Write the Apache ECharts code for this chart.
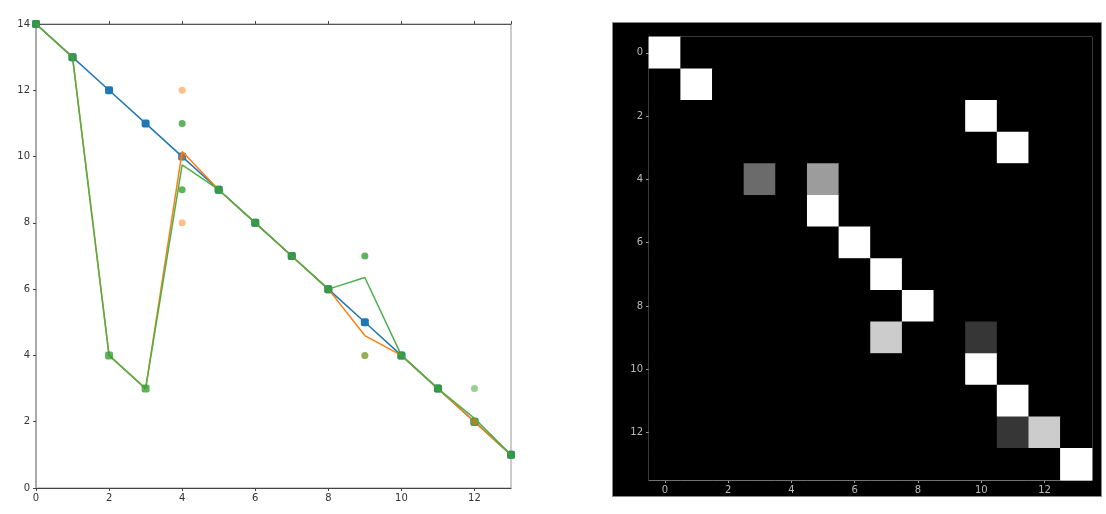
<!DOCTYPE html>
<html><head><meta charset="utf-8">
<script src="https://cdn.jsdelivr.net/npm/echarts@6/dist/echarts.min.js"></script>
<style>html,body{margin:0;padding:0;background:#fff}#c{width:1106px;height:514px}</style>
</head><body><div id="c"></div>
<script>
// ---- data ----
const xValues = [0,1,2,3,4,5,6,7,8,9,10,11,12,13];
const blueValues   = [14,13,12,11,10,9,8,7,6,5,4,3,2,1];
const orangeValues = [14,13,4,3,10.15,9,8,7,6,4.6,4,3,2,1];
const greenValues  = [14,13,4,3,9.75,9,8,7,6,6.35,4,3,2.1,1];
const keptX = [0,1,2,3,5,6,7,8,10,11,12,13];
const keptY = [14,13,4,3,9,8,7,6,4,3,2,1];
const orangeDotX = [4,4,4,9,12];
const orangeDotY = [12,10,8,4,2];
const greenDotX = [4,4,9];
const greenDotY = [11,9,7];
const greenFaintX = [9,12];
const greenFaintY = [4,3];
const heatLabels = ['0','1','2','3','4','5','6','7','8','9','10','11','12','13'];
const heatMatrix = [
 [1,0,0,0,0,0,0,0,0,0,0,0,0,0],
 [0,1,0,0,0,0,0,0,0,0,0,0,0,0],
 [0,0,0,0,0,0,0,0,0,0,1,0,0,0],
 [0,0,0,0,0,0,0,0,0,0,0,1,0,0],
 [0,0,0,0.42,0,0.61,0,0,0,0,0,0,0,0],
 [0,0,0,0,0,1,0,0,0,0,0,0,0,0],
 [0,0,0,0,0,0,1,0,0,0,0,0,0,0],
 [0,0,0,0,0,0,0,1,0,0,0,0,0,0],
 [0,0,0,0,0,0,0,0,1,0,0,0,0,0],
 [0,0,0,0,0,0,0,0.8,0,0,0.21,0,0,0],
 [0,0,0,0,0,0,0,0,0,0,1,0,0,0],
 [0,0,0,0,0,0,0,0,0,0,0,1,0,0],
 [0,0,0,0,0,0,0,0,0,0,0,0.21,0.8,0],
 [0,0,0,0,0,0,0,0,0,0,0,0,0,1]
];

const zip = (a,b)=>a.map((v,i)=>[v,b[i]]);
const heatData = [];
heatMatrix.forEach((row,r)=>row.forEach((v,c)=>heatData.push([c,r,v])));

const font = 'DejaVu Sans';
const chart = echarts.init(document.getElementById('c'));
chart.setOption({
  animation:false,
  backgroundColor:'#fff',
  graphic:[{type:'rect',shape:{x:612.5,y:22.5,width:489,height:474},style:{fill:'#000',stroke:'#888',lineWidth:1},z:-10}],
  grid:[
    {left:36,top:24,width:475,height:464,show:true,borderColor:'#999',borderWidth:1,backgroundColor:'transparent'},
    {left:649,top:37,width:443,height:443,show:true,borderColor:'#999',borderWidth:1,backgroundColor:'transparent'}
  ],
  xAxis:[
    {type:'value',gridIndex:0,min:0,max:13,interval:2,
     axisLine:{lineStyle:{color:'#444',width:1}},axisTick:{show:true,length:3,lineStyle:{color:'#444'}},
     axisLabel:{fontFamily:font,fontSize:10,color:'#333',margin:5,showMaxLabel:false},splitLine:{show:false}},
    {type:'value',gridIndex:0,position:'top',min:0,max:13,interval:2,
     axisLine:{lineStyle:{color:'#555'}},axisTick:{show:true,length:3,lineStyle:{color:'#444'}},
     axisLabel:{show:false},splitLine:{show:false}},
    {type:'category',gridIndex:1,data:heatLabels,
     axisLine:{lineStyle:{color:'#999'}},axisTick:{show:true,interval:1,alignWithLabel:true,length:3,lineStyle:{color:'#999'}},
     axisLabel:{interval:1,fontFamily:font,fontSize:10,color:'#bbb',margin:5},splitLine:{show:false}}
  ],
  yAxis:[
    {type:'value',gridIndex:0,min:0,max:14,interval:2,
     axisLine:{show:true,lineStyle:{color:'#aaa',width:2}},axisTick:{show:true,length:3,lineStyle:{color:'#444'}},
     axisLabel:{fontFamily:font,fontSize:10,color:'#333',margin:6},splitLine:{show:false}},
    {type:'category',gridIndex:1,data:heatLabels,inverse:true,
     axisLine:{show:true,lineStyle:{color:'#999'}},axisTick:{show:true,interval:1,alignWithLabel:true,length:3,lineStyle:{color:'#999'}},
     axisLabel:{interval:1,fontFamily:font,fontSize:10,color:'#bbb',margin:6},splitLine:{show:false}}
  ],
  visualMap:{show:false,min:0,max:1,seriesIndex:9,inRange:{color:['#000000','#ffffff']}},
  series:[
    {type:'line',xAxisIndex:0,yAxisIndex:0,data:zip(xValues,blueValues),symbol:'roundRect',symbolSize:8,
     lineStyle:{color:'#1f77b4',width:1.5},itemStyle:{color:'#1f77b4'},z:2},
    {type:'line',xAxisIndex:0,yAxisIndex:0,data:zip(xValues,orangeValues),showSymbol:false,symbol:'none',
     lineStyle:{color:'#ff7f0e',width:1.5},z:3},
    {type:'line',xAxisIndex:0,yAxisIndex:0,data:zip(xValues,greenValues),showSymbol:false,symbol:'none',
     lineStyle:{color:'#4cb04a',width:1.5},z:4},
    {type:'scatter',xAxisIndex:0,yAxisIndex:0,data:zip(keptX,keptY),symbol:'roundRect',symbolSize:8,
     itemStyle:{color:'#3a9d34'},z:5},
    {type:'scatter',xAxisIndex:0,yAxisIndex:0,data:zip(orangeDotX,orangeDotY),symbolSize:7,
     itemStyle:{color:'#ff7f0e',opacity:0.5},z:6},
    {type:'scatter',xAxisIndex:0,yAxisIndex:0,data:zip(greenDotX,greenDotY),symbolSize:7,
     itemStyle:{color:'#3a9d34'},z:6},
    {type:'scatter',xAxisIndex:0,yAxisIndex:0,data:zip(greenFaintX,greenFaintY),symbolSize:7,
     itemStyle:{color:'#2ca02c',opacity:0.5},z:7},
    {type:'line',xAxisIndex:0,yAxisIndex:0,data:[],z:1},
    {type:'line',xAxisIndex:0,yAxisIndex:0,data:[],z:1},
    {type:'heatmap',xAxisIndex:2,yAxisIndex:1,data:heatData,itemStyle:{borderWidth:0}}
  ]
});
</script></body></html>
